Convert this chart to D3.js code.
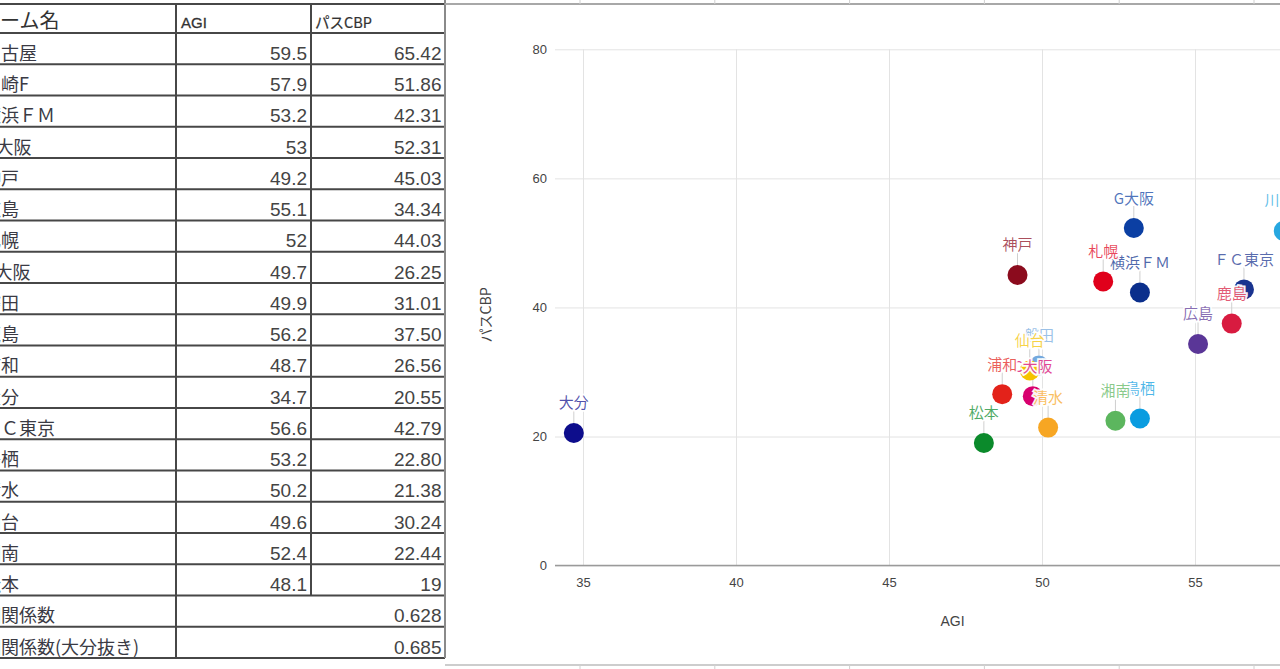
<!DOCTYPE html>
<html>
<head>
<meta charset="utf-8">
<script src="https://cdn.jsdelivr.net/npm/d3@7"></script>
<style>
  html, body { margin: 0; padding: 0; background: #fff; overflow: hidden; }
  svg { display: block; }
</style>
</head>
<body>
<svg id="c" width="1280" height="669"></svg>
<script>
// ---------- data ----------
const headerLabels = ["チーム名", "AGI", "パスCBP"];
const teams = ["名古屋","川崎F","横浜ＦＭ","G大阪","神戸","広島","札幌","C大阪","磐田","鹿島","浦和","大分","ＦＣ東京","鳥栖","清水","仙台","湘南","松本"];
const agi = [59.5, 57.9, 53.2, 53, 49.2, 55.1, 52, 49.7, 49.9, 56.2, 48.7, 34.7, 56.6, 53.2, 50.2, 49.6, 52.4, 48.1];
const cbpText = ["65.42","51.86","42.31","52.31","45.03","34.34","44.03","26.25","31.01","37.50","26.56","20.55","42.79","22.80","21.38","30.24","22.44","19"];
const cbp = cbpText.map(Number);
const corrLabels = ["相関係数", "相関係数(大分抜き)"];
const corrValues = ["0.628", "0.685"];
const xTicks = [35, 40, 45, 50, 55, 60];
const yTicks = [0, 20, 40, 60, 80];
const xTitle = "AGI";
const yTitle = "パスCBP";

// ---------- styles ----------
const teamColors = ["#d6001c","#27a7e0","#0b2f8c","#0b3fa3","#8b0b1d","#5a3697","#e0001b","#d8006e","#74a9de","#d81b40","#e3221a","#0d0d8c","#19338f","#0a9ce0","#f7a623","#f5c300","#5cb65e","#0b8a2b"];
const cjk = "'Noto Sans CJK JP', 'Liberation Sans', sans-serif";
const num = "'Liberation Sans', Arial, 'Noto Sans CJK JP', sans-serif";

const svg = d3.select("#c");

// ---------- table ----------
const tbl = svg.append("g");
const rowTop = 33, rowH = 31.25, tableRight = 445;
const colA = 176, colB = 311;
const nRows = teams.length + corrLabels.length;
const rowY = i => rowTop + i * rowH;

// header text
tbl.append("text").attr("x", -20).attr("y", 28).attr("font-family", cjk).attr("font-size", 20)
   .attr("fill", "#333").text(headerLabels[0]);
tbl.append("text").attr("x", colA + 5).attr("y", 27.5).attr("font-family", num).attr("font-size", 15)
   .attr("fill", "#333").attr("stroke", "#333").attr("stroke-width", 0.3).text(headerLabels[1]);
tbl.append("text").attr("x", colB + 4).attr("y", 27.5).attr("font-family", cjk).attr("font-size", 14.5)
   .attr("fill", "#333").attr("stroke", "#333").attr("stroke-width", 0.2).text(headerLabels[2]);

// team rows
teams.forEach((t, i) => {
  const base = rowY(i + 1) - 4.5;
  tbl.append("text").attr("x", -17).attr("y", base).attr("font-family", cjk).attr("font-size", 18)
     .attr("fill", "#3a3a44").text(t);
  tbl.append("text").attr("x", colB - 4).attr("y", base).attr("text-anchor", "end")
     .attr("font-family", num).attr("font-size", 19).attr("fill", "#444").text(String(agi[i]));
  tbl.append("text").attr("x", tableRight - 3.5).attr("y", base).attr("text-anchor", "end")
     .attr("font-family", num).attr("font-size", 19).attr("fill", "#444").text(cbpText[i]);
});
corrLabels.forEach((t, j) => {
  const i = teams.length + j;
  const base = rowY(i + 1) - 4.5;
  tbl.append("text").attr("x", -17).attr("y", base).attr("font-family", cjk).attr("font-size", 18)
     .attr("fill", "#3a3a44").text(t);
  tbl.append("text").attr("x", tableRight - 3.5).attr("y", base).attr("text-anchor", "end")
     .attr("font-family", num).attr("font-size", 19).attr("fill", "#444").text(corrValues[j]);
});

// table grid lines
const hl = [4].concat(d3.range(nRows + 1).map(rowY));
tbl.selectAll("line.h").data(hl).join("line")
   .attr("x1", 0).attr("x2", tableRight).attr("y1", d => d).attr("y2", d => d)
   .attr("stroke", "#474747").attr("stroke-width", 2);
tbl.append("line").attr("x1", colA).attr("x2", colA).attr("y1", 4).attr("y2", rowY(nRows))
   .attr("stroke", "#474747").attr("stroke-width", 2);
tbl.append("line").attr("x1", colB).attr("x2", colB).attr("y1", 4).attr("y2", rowY(teams.length))
   .attr("stroke", "#474747").attr("stroke-width", 2);
tbl.append("line").attr("x1", tableRight).attr("x2", tableRight).attr("y1", 0).attr("y2", rowY(nRows))
   .attr("stroke", "#8a8a8a").attr("stroke-width", 2);

// chart frame (spreadsheet gridlines around embedded chart)
svg.append("line").attr("x1", tableRight).attr("x2", 1280).attr("y1", 4).attr("y2", 4)
   .attr("stroke", "#a8a8a8").attr("stroke-width", 2);
svg.append("line").attr("x1", tableRight).attr("x2", 1280).attr("y1", 665).attr("y2", 665)
   .attr("stroke", "#bdbdbd").attr("stroke-width", 1.5);
d3.range(6).forEach(k => {
  const xx = 580 + k * 134.8;
  svg.append("line").attr("x1", xx).attr("x2", xx).attr("y1", 0).attr("y2", 4).attr("stroke", "#d0d0d0");
  svg.append("line").attr("x1", xx).attr("x2", xx).attr("y1", 665).attr("y2", 669).attr("stroke", "#d0d0d0");
});

// ---------- chart ----------
const plotLeft = 555, plotRight = 1350;
const x = d3.scaleLinear().domain([35, 60]).range([583, 1348]);
const y = d3.scaleLinear().domain([0, 80]).range([565.6, 49.3]);
const ch = svg.append("g");

// horizontal gridlines + y labels
const ya = ch.append("g").attr("transform", `translate(${plotLeft},0)`)
  .call(d3.axisLeft(y).tickValues(yTicks).tickSize(-(plotRight - plotLeft)).tickPadding(8));
ya.select(".domain").remove();
ya.selectAll("line").attr("stroke", "#e3e3e3");
ya.selectAll("text").attr("font-family", num).attr("font-size", 13).attr("fill", "#444");

// vertical gridlines + x labels
const xa = ch.append("g").attr("transform", `translate(0,${y(0)})`)
  .call(d3.axisBottom(x).tickValues(xTicks).tickSize(-(y(0) - y(80))).tickPadding(12));
xa.select(".domain").remove();
xa.selectAll("line").attr("stroke", "#e3e3e3");
xa.selectAll("text").attr("font-family", num).attr("font-size", 13).attr("fill", "#444");

// baseline
ch.append("line").attr("x1", plotLeft).attr("x2", plotRight).attr("y1", y(0)).attr("y2", y(0))
  .attr("stroke", "#9a9a9a").attr("stroke-width", 1.5);

// axis titles
ch.append("text").attr("x", (plotLeft + plotRight) / 2).attr("y", 626).attr("text-anchor", "middle")
  .attr("font-family", num).attr("font-size", 14).attr("fill", "#444").text(xTitle);
ch.append("text").attr("transform", "translate(491,315) rotate(-90)").attr("text-anchor", "middle")
  .attr("font-family", cjk).attr("font-size", 14).attr("fill", "#444").text(yTitle);

const pts = teams.map((t, i) => ({ t, x: agi[i], y: cbp[i], c: teamColors[i] }));

// leader lines
ch.selectAll("line.lead").data(pts).join("line")
  .attr("x1", d => x(d.x)).attr("x2", d => x(d.x))
  .attr("y1", d => y(d.y) - 10).attr("y2", d => y(d.y) - 22)
  .attr("stroke", "#cfcfcf").attr("stroke-width", 1);

// points
ch.selectAll("circle.pt").data(pts).join("circle")
  .attr("cx", d => x(d.x)).attr("cy", d => y(d.y)).attr("r", 10)
  .attr("fill", d => d.c);

// labels
ch.selectAll("text.lbl").data(pts).join("text")
  .attr("x", d => x(d.x)).attr("y", d => y(d.y) - 24.5)
  .attr("text-anchor", "middle").attr("font-family", cjk).attr("font-size", 15)
  .attr("fill", d => d.c).attr("fill-opacity", 0.72)
  .attr("stroke", "#fff").attr("stroke-width", 3.5).attr("stroke-opacity", 0.95)
  .attr("paint-order", "stroke")
  .text(d => d.t);
</script>
</body>
</html>
